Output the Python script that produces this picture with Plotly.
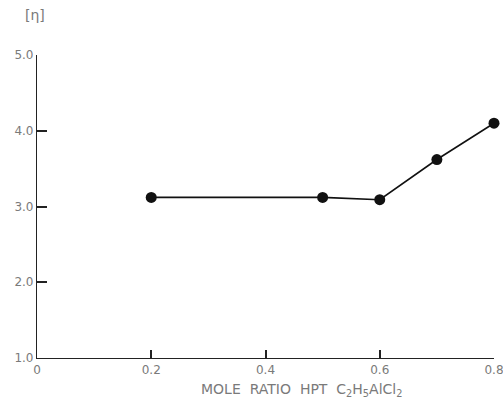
import plotly.graph_objects as go

# Intrinsic viscosity versus mole ratio of HPT to C2H5AlCl2
mole_ratio = [0.2, 0.5, 0.6, 0.7, 0.8]
viscosity = [3.12, 3.12, 3.09, 3.62, 4.10]

x_ticks = [0, 0.2, 0.4, 0.6, 0.8]
x_tick_labels = ["0", "0.2", "0.4", "0.6", "0.8"]
y_ticks = [1.0, 2.0, 3.0, 4.0, 5.0]
y_tick_labels = ["1.0", "2.0", "3.0", "4.0", "5.0"]

label_font = dict(family="DejaVu Sans, sans-serif", size=12, color="#7a7a7a")
title_font = dict(family="DejaVu Sans, sans-serif", size=14, color="#7a7a7a")

fig = go.Figure()
fig.add_trace(go.Scatter(
    x=mole_ratio, y=viscosity,
    mode="lines+markers",
    line=dict(color="#111111", width=1.6),
    marker=dict(color="#111111", size=11),
    showlegend=False,
    cliponaxis=False,
))

fig.update_layout(
    width=503, height=406,
    margin=dict(l=37, r=9, t=55, b=48),
    paper_bgcolor="white", plot_bgcolor="rgba(0,0,0,0)",
    xaxis=dict(
        range=[0, 0.8], tickvals=x_ticks, ticktext=x_tick_labels,
        showgrid=False, zeroline=False, automargin=False,
        showline=True, linecolor="#222222", linewidth=1.2,
        ticks="inside", ticklen=8, tickcolor="#222222", tickwidth=1.5,
        tickfont=label_font, ticklabeloverflow="allow", layer="above traces",
    ),
    yaxis=dict(
        range=[1, 5], tickvals=y_ticks, ticktext=y_tick_labels,
        showgrid=False, zeroline=False, automargin=False,
        showline=True, linecolor="#222222", linewidth=1.2,
        ticks="inside", ticklen=10, tickcolor="#222222", tickwidth=1.5,
        tickfont=label_font, layer="above traces",
    ),
    annotations=[
        dict(text="[η]", xref="paper", yref="paper", x=-0.004, y=1.0,
             yshift=40, xanchor="center", yanchor="middle",
             showarrow=False, font=title_font),
        dict(text="MOLE&nbsp; RATIO&nbsp; HPT&nbsp; C<sub>2</sub>H<sub>5</sub>AlCl<sub>2</sub>",
             xref="paper", yref="paper", x=0.578, y=0.0, yshift=-32,
             xanchor="center", yanchor="middle",
             showarrow=False, font=title_font),
    ],
)

fig.write_html("out.html")
